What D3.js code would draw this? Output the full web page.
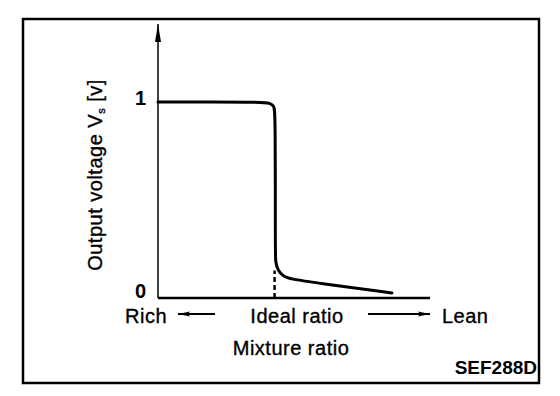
<!DOCTYPE html>
<html>
<head>
<meta charset="utf-8">
<script src="https://cdn.jsdelivr.net/npm/d3@7"></script>
<style>
  body { margin: 0; background: #fff; }
  svg text { font-family: "Liberation Sans", Arial, sans-serif; fill: #000; }
  .lab { letter-spacing: 0.5px; stroke: #000; stroke-width: 0.35px; }
</style>
</head>
<body>
<div id="chart"></div>
<script>
/* O2 sensor output vs mixture ratio */

const width = 560, height = 396;

// ratio offset from ideal (0 = ideal), output voltage [v]
const ratio   = [-3, -0.30, -0.12, -0.015, 0.02, 0.02, 0.02, 0.09, 0.22, 0.40, 1.09, 3.02];
const voltage = [1, 1, 0.995, 0.98, 0.95, 0.245, 0.184, 0.138, 0.112, 0.097, 0.077, 0.026];
const yTicks = [0, 1];
const xLabels = ["Rich", "Ideal ratio", "Lean"];

const data = ratio.map((r, i) => ({ r: r, v: voltage[i] }));

const svg = d3.select("#chart")
  .append("svg")
  .attr("width", width)
  .attr("height", height);

let x = d3.scaleLinear().domain([-3, 4]).range([158, 430]);
let y = d3.scaleLinear().domain([0, 1]).range([298, 102]);

/* frame */
svg.append("rect")
  .attr("x", 23).attr("y", 19)
  .attr("width", 516).attr("height", 364)
  .attr("fill", "none")
  .attr("stroke", "#000")
  .attr("stroke-width", 2.5);

/* arrow heads */
const defs = svg.append("defs");
defs.append("marker")
  .attr("id", "head")
  .attr("viewBox", "0 0 12 6")
  .attr("refX", 12).attr("refY", 3)
  .attr("markerWidth", 12).attr("markerHeight", 6)
  .attr("markerUnits", "userSpaceOnUse")
  .attr("orient", "auto")
  .append("path")
  .attr("d", "M0,0.5 L12,3 L0,5.5 L2,3 Z")
  .attr("fill", "#000");
defs.append("marker")
  .attr("id", "yhead")
  .attr("viewBox", "0 0 18 8")
  .attr("refX", 18).attr("refY", 4)
  .attr("markerWidth", 18).attr("markerHeight", 8)
  .attr("markerUnits", "userSpaceOnUse")
  .attr("orient", "auto")
  .append("path")
  .attr("d", "M0,1 L18,4 L0,7 Z")
  .attr("fill", "#000");

/* axes */
svg.append("line")
  .attr("x1", x(-3)).attr("x2", x(-3))
  .attr("y1", y(0)).attr("y2", 24)
  .attr("stroke", "#000")
  .attr("stroke-width", 1.5)
  .attr("marker-end", "url(#yhead)");

svg.append("line")
  .attr("x1", x(-3)).attr("x2", x(4))
  .attr("y1", y(0)).attr("y2", y(0))
  .attr("stroke", "#000")
  .attr("stroke-width", 2.5);

svg.append("g")
  .attr("transform", `translate(${x(-3) - 9},0)`)
  .call(d3.axisLeft(y).tickValues(yTicks).tickSize(0).tickFormat(d3.format("d")))
  .call(g => g.select(".domain").remove())
  .call(g => g.selectAll("text")
    .attr("font-size", 20)
    .attr("font-weight", "bold")
    .attr("font-family", "Liberation Sans, Arial, sans-serif")
    .attr("dy", (d) => d === 0 ? "-0.05em" : "0.1em"));

/* ideal ratio marker */
svg.append("line")
  .attr("x1", x(0)).attr("x2", x(0))
  .attr("y1", y(0)).attr("y2", y(0.14))
  .attr("stroke", "#000")
  .attr("stroke-width", 2.5)
  .attr("stroke-dasharray", "5,3");

/* the curve */
let line = d3.line()
  .x(d => x(d.r))
  .y(d => y(d.v))
  .curve(d3.curveBasis);

svg.append("path")
  .datum(data)
  .attr("d", line)
  .attr("fill", "none")
  .attr("stroke", "#000")
  .attr("stroke-width", 3)
  .attr("stroke-linecap", "round");

/* x labels */
const labY = 323;
svg.append("text").attr("class", "lab").attr("x", 125).attr("y", labY).attr("font-size", 20).text(xLabels[0]);
svg.append("text").attr("class", "lab").attr("x", 297).attr("y", labY).attr("text-anchor", "middle").attr("font-size", 20).text(xLabels[1]);
svg.append("text").attr("class", "lab").attr("x", 442).attr("y", labY).attr("font-size", 20).text(xLabels[2]);

svg.append("line")
  .attr("x1", 215).attr("x2", 178).attr("y1", 314).attr("y2", 314)
  .attr("stroke", "#000").attr("stroke-width", 2)
  .attr("marker-end", "url(#head)");
svg.append("line")
  .attr("x1", 368).attr("x2", 430).attr("y1", 314).attr("y2", 314)
  .attr("stroke", "#000").attr("stroke-width", 2)
  .attr("marker-end", "url(#head)");

svg.append("text")
  .attr("class", "lab")
  .attr("x", 291).attr("y", 355)
  .attr("text-anchor", "middle")
  .attr("font-size", 20)
  .text("Mixture ratio");

/* y label */
const yl = svg.append("text")
  .attr("class", "lab")
  .attr("transform", "translate(102,175) rotate(-90)")
  .attr("text-anchor", "middle")
  .attr("font-size", 20);
yl.append("tspan").text("Output voltage V");
yl.append("tspan").attr("font-size", 11).attr("dy", 3).text("s");
yl.append("tspan").attr("dy", -3).text(" [v]");

svg.append("text")
  .attr("x", 537).attr("y", 374)
  .attr("text-anchor", "end")
  .attr("font-size", 19)
  .attr("font-weight", "bold")
  .text("SEF288D");
</script>
</body>
</html>
